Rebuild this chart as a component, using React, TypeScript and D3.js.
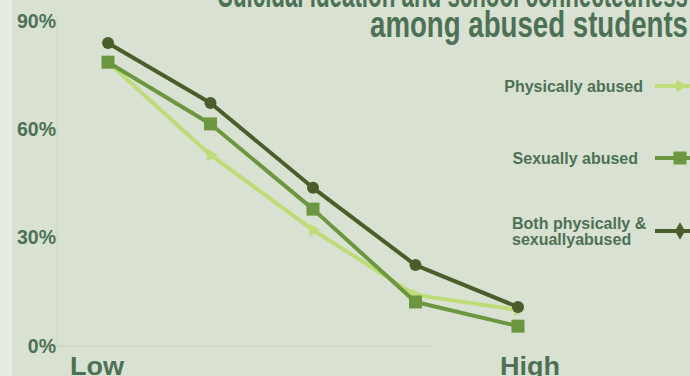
import React from "react";
import * as d3 from "d3";

const levels = ["Low", "2", "3", "4", "High"];
const physically = [78.6, 52.9, 32.1, 14.1, 10.0];
const sexually = [78.6, 61.5, 37.9, 12.2, 5.5];
const both = [83.9, 67.3, 43.8, 22.4, 10.8];
const yTicks = [0, 30, 60, 90];
const seriesNames = ["Physically abused", "Sexually abused", "Both physically & sexuallyabused"];

const W = 690, H = 376;
const TXT = "#4d7155";
const BG = "#d9e1d2";
const C_LIGHT = "#bedd78";
const C_MID = "#6c9640";
const C_DARK = "#4a5e2c";

export default function App() {
  const x = d3.scalePoint<string>().domain(levels).range([108, 518]);
  const y = d3.scaleLinear().domain([0, 90]).range([346, 21]);
  const line = d3.line<number>().x((_, i) => x(levels[i])!).y((d) => y(d));

  const series = [
    { name: seriesNames[0], data: physically, color: C_LIGHT, marker: "tri" },
    { name: seriesNames[1], data: sexually, color: C_MID, marker: "sq" },
    { name: seriesNames[2], data: both, color: C_DARK, marker: "circ" },
  ];

  const marker = (kind: string, cx: number, cy: number, color: string, key: any) => {
    if (kind === "tri") {
      return <path key={key} d={d3.symbol(d3.symbolTriangle, 70)()!} transform={`translate(${cx},${cy}) rotate(90)`} fill={color} />;
    }
    if (kind === "sq") {
      return <rect key={key} x={cx - 6.5} y={cy - 6.5} width={13} height={13} fill={color} />;
    }
    return <circle key={key} cx={cx} cy={cy} r={6} fill={color} />;
  };

  const legendY = [86, 158, 231];

  return (
    <svg width={W} height={H} style={{ position: "absolute", left: 0, top: 0, display: "block" }}>
      <rect x={0} y={0} width={W} height={H} fill={BG} />
      <rect x={0} y={0} width={12} height={H} fill="#e6ece3" />
      <g fontFamily="'Liberation Sans Narrow', 'Liberation Sans', Arial, sans-serif" fontWeight="bold" fill={TXT}>
        <text x={688} y={7} textAnchor="end" fontSize={36} textLength={470} lengthAdjust="spacingAndGlyphs">Suicidal ideation and school connectedness</text>
        <text x={688} y={37} textAnchor="end" fontSize={36} textLength={318} lengthAdjust="spacingAndGlyphs">among abused students</text>
      </g>
      {/* axes */}
      <line x1={57} x2={57} y1={y(90) - 4} y2={y(0)} stroke="#ccd5c6" strokeWidth={1} />
      <line x1={50} x2={433} y1={y(0)} y2={y(0)} stroke="#ccd5c6" strokeWidth={1.5} />
      {yTicks.map((t) => (
        <g key={t}>
          <line x1={54} x2={57} y1={y(t)} y2={y(t)} stroke="#c8d1c2" />
          <text x={56} y={y(t)} dy="0.35em" textAnchor="end" fontFamily="'Liberation Sans', Arial, sans-serif" fontWeight="bold" fontSize={19.5} fill={TXT}>{t}%</text>
        </g>
      ))}
      <g fontFamily="'Liberation Sans Narrow', 'Liberation Sans', Arial, sans-serif" fontWeight="bold" fill={TXT} fontSize={26}>
        <text x={70} y={375} textLength={54} lengthAdjust="spacingAndGlyphs">{levels[0]}</text>
        <text x={500} y={375} textLength={60} lengthAdjust="spacingAndGlyphs">{levels[4]}</text>
      </g>
      {/* lines */}
      {series.map((s) => (
        <path key={s.name} d={line(s.data)!} fill="none" stroke={s.color} strokeWidth={4} strokeLinejoin="round" />
      ))}
      {series.map((s) => s.data.map((v, i) => marker(s.marker, x(levels[i])!, y(v), s.color, s.name + i)))}
      {/* legend */}
      <g fontFamily="'Liberation Sans', Arial, sans-serif" fontWeight="bold" fontSize={16} fill={TXT}>
        <text x={643} y={legendY[0]} dy="0.35em" textAnchor="end">{seriesNames[0]}</text>
        <text x={638} y={legendY[1]} dy="0.35em" textAnchor="end">{seriesNames[1]}</text>
        <text x={512} y={legendY[2] - 8} dy="0.35em">Both physically &amp;</text>
        <text x={512} y={legendY[2] + 8} dy="0.35em">sexuallyabused</text>
      </g>
      {series.map((s, i) => (
        <g key={"lg" + i}>
          <line x1={655} x2={690} y1={legendY[i]} y2={legendY[i]} stroke={s.color} strokeWidth={4} />
          {s.marker === "circ" ? (
            <path d={d3.symbol(d3.symbolDiamond, 90)()!} transform={`translate(680,${legendY[i]})`} fill={s.color} />
          ) : (
            marker(s.marker, 680, legendY[i], s.color, "m" + i)
          )}
        </g>
      ))}
    </svg>
  );
}
